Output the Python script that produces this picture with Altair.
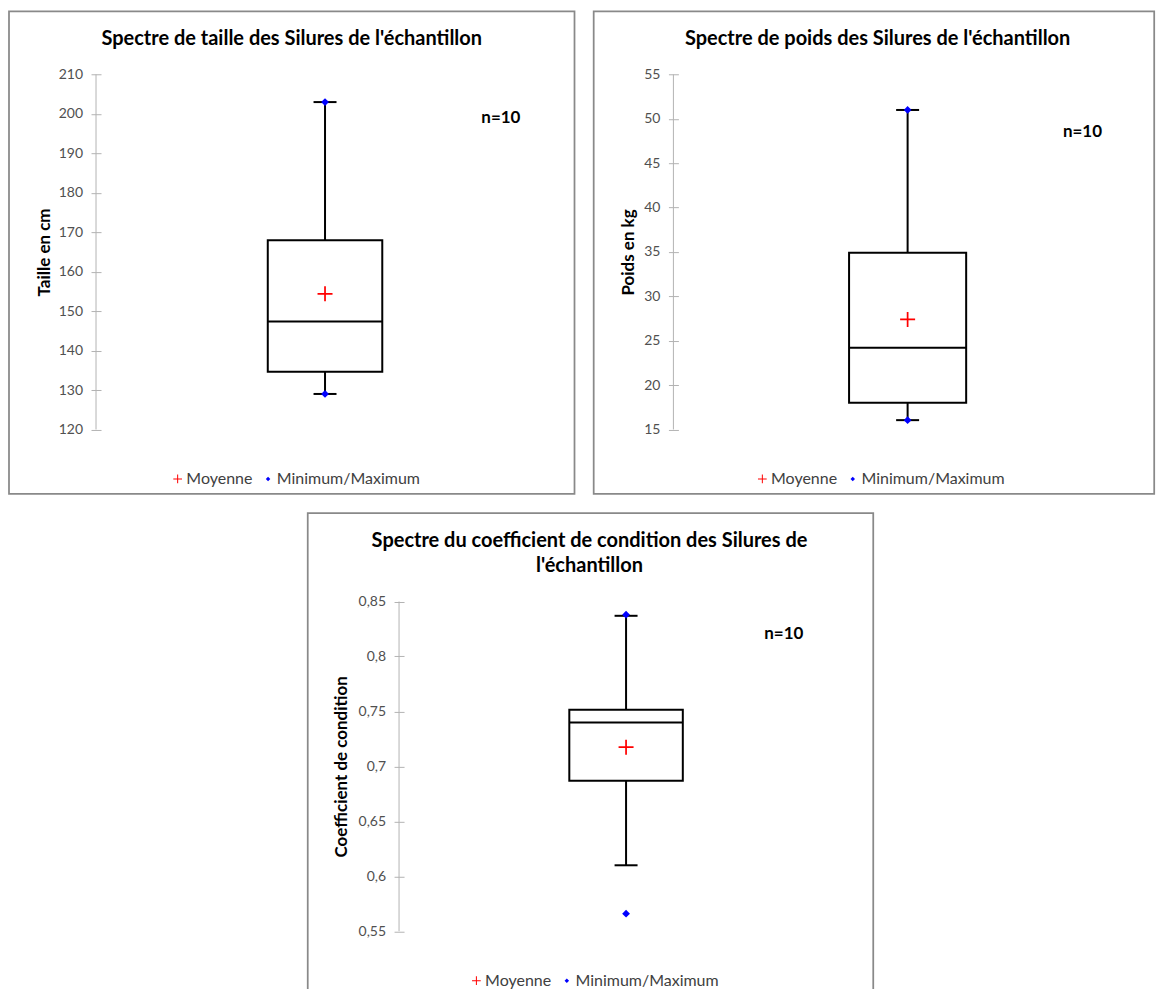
import altair as alt
import pandas as pd

# ---------------- data ----------------
titles = [
    ["Spectre de taille des Silures de l'échantillon"],
    ["Spectre de poids des Silures de l'échantillon"],
    ["Spectre du coefficient de condition des Silures de", "l'échantillon"],
]
y_titles = ["Taille en cm", "Poids en kg", "Coefficient de condition"]
y_domains = [[120, 210], [15, 55], [0.55, 0.85]]
y_ticks = [
    [120, 130, 140, 150, 160, 170, 180, 190, 200, 210],
    [15, 20, 25, 30, 35, 40, 45, 50, 55],
    [0.55, 0.6, 0.65, 0.7, 0.75, 0.8, 0.85],
]
minimum = [129.0, 16.05, 0.566]
whisker_low = [129.0, 16.05, 0.61]
q1 = [134.6, 18.0, 0.687]
median = [147.4, 24.2, 0.740]
mean = [154.4, 27.4, 0.7175]
q3 = [168.0, 34.9, 0.7515]
whisker_high = [203.0, 51.0, 0.837]
maximum = [203.0, 51.0, 0.838]
n_obs = [10, 10, 10]
series = ["Moyenne", "Minimum/Maximum"]
category = "Silures"

# ---------------- layout / style ----------------
FONT = "Lato"
PANEL_W = [566, 561, 566]
PANEL_H = 483
Y_RANGE = [[418.5, 63.2], [418.5, 63.2], [418.5, 88.5]]
AXIS_X = [87.1, 79.8, 91.4]
PLOT_RIGHT = [545.5, 548.6, 545.8]
N_POS = [(492.3, 107.2), (489.2, 120.9), (476.5, 120.9)]
YTITLE_X = [35.3, 35.2, 34.0]
TITLE_X = [283.0, 284.2, 282.0]
TITLE_Y = [28.2, 28.2, 27.5]
LEGEND_X = 160.8
LEGEND_Y = 460
AXIS_GREY = "#b3b3b3"
LABEL_GREY = "#505050"
LEGEND_GREY = "#404040"
BORDER = "#898989"
PLUS = "M-1,-0.115H-0.115V-1H0.115V-0.115H1V0.115H0.115V1H-0.115V0.115H-1Z"
DIAMOND = "M0,-0.52L0.52,0L0,0.52L-0.52,0Z"


def panel(i):
    stats = pd.DataFrame({
        "cat": [category],
        "wlo": [whisker_low[i]], "q1": [q1[i]], "med": [median[i]],
        "q3": [q3[i]], "whi": [whisker_high[i]], "n": [f"n={n_obs[i]}"],
    })
    pts = pd.DataFrame({
        "cat": [category] * 3,
        "series": [series[0], series[1], series[1]],
        "v": [mean[i], minimum[i], maximum[i]],
    })
    ax = AXIS_X[i]
    band = PLOT_RIGHT[i] - ax
    box_w = 0.25 * band
    ysc = alt.Scale(domain=y_domains[i], range=Y_RANGE[i], nice=False, zero=False)
    mid = (Y_RANGE[i][0] + Y_RANGE[i][1]) / 2
    if i == 2:
        lexpr = "replace(format(datum.value, '.2~f'), '.', ',')"
    else:
        lexpr = "format(datum.value, '~g')"
    yaxis = alt.Axis(
        values=y_ticks[i], offset=-(ax + 5), tickSize=10, domain=False, grid=False,
        tickColor=AXIS_GREY, tickWidth=1, labelFont=FONT, labelFontSize=14,
        labelColor=LABEL_GREY, labelPadding=8.5, labelExpr=lexpr,
        title=y_titles[i], titleFont=FONT, titleFontSize=17, titleFontWeight="bold",
        titleColor="black", titleX=YTITLE_X[i] - (ax + 5), titleY=mid,
        titleAngle=270, titleAlign="center", titleBaseline="middle",
    )
    xenc = alt.X("cat:N", scale=alt.Scale(range=[ax, PLOT_RIGHT[i]], paddingInner=0,
                                          paddingOuter=0), axis=None)

    def Y(field):
        return alt.Y(f"{field}:Q", scale=ysc, axis=yaxis)

    base = alt.Chart(stats)
    domain_line = base.mark_rule(color=AXIS_GREY, strokeWidth=1).encode(
        x=alt.value(ax),
        y=alt.Y(datum=y_domains[i][0], type="quantitative", scale=ysc, axis=yaxis),
        y2=alt.Y2(datum=y_domains[i][1]),
    )
    whisker = base.mark_rule(color="black", strokeWidth=2).encode(
        x=xenc, y=Y("wlo"), y2="whi:Q")
    box = base.mark_bar(fill="white", stroke="black", strokeWidth=2, width=box_w).encode(
        x=xenc, y=Y("q1"), y2="q3:Q")
    med = base.mark_tick(color="black", size=box_w, thickness=2, orient="horizontal",
                         opacity=1).encode(x=xenc, y=Y("med"))
    cap_lo = base.mark_tick(color="black", size=23, thickness=2, orient="horizontal",
                            opacity=1).encode(x=xenc, y=Y("wlo"))
    cap_hi = base.mark_tick(color="black", size=23, thickness=2, orient="horizontal",
                            opacity=1).encode(x=xenc, y=Y("whi"))
    leg = alt.Legend(
        orient="none", legendX=LEGEND_X, legendY=LEGEND_Y, direction="horizontal",
        title=None, symbolSize=76, symbolStrokeWidth=0, labelFont=FONT,
        labelFontSize=16, labelColor=LEGEND_GREY, labelOffset=0.7, columnPadding=7.5,
        padding=0,
    )
    points = alt.Chart(pts).mark_point(filled=True, size=225, strokeWidth=0, opacity=1).encode(
        x=xenc, y=alt.Y("v:Q", scale=ysc, axis=yaxis),
        color=alt.Color("series:N", scale=alt.Scale(domain=series, range=["#ff0000", "#0000ff"]),
                        legend=leg),
        shape=alt.Shape("series:N", scale=alt.Scale(domain=series, range=[PLUS, DIAMOND]),
                        legend=leg),
    )
    ntext = base.mark_text(font=FONT, fontSize=17, fontWeight="bold", color="black",
                           align="center", baseline="middle").encode(
        text="n:N", x=alt.value(N_POS[i][0]), y=alt.value(N_POS[i][1]))
    title = base.mark_text(text=titles[i], font=FONT, fontSize=20, fontWeight="bold",
                           color="black", align="center", baseline="middle",
                           lineHeight=25).encode(
        x=alt.value(TITLE_X[i]), y=alt.value(TITLE_Y[i]))
    return alt.layer(domain_line, whisker, box, med, cap_lo, cap_hi, points, ntext, title
                     ).properties(width=PANEL_W[i], height=PANEL_H)


def indep(c):
    return c.resolve_scale(color="independent", shape="independent",
                           x="independent", y="independent").resolve_legend(
        color="independent", shape="independent")


spacer = alt.Chart(pd.DataFrame({"s": [0]})).mark_point(opacity=0, size=1).encode(
    x=alt.value(100), y=alt.value(5)).properties(
    width=298, height=10, view=alt.ViewBackground(stroke="transparent", strokeWidth=0))

top = indep(alt.hconcat(panel(0), panel(1), spacing=17.2))
bottom = indep(alt.hconcat(spacer, panel(2), spacing=0))
chart = indep(alt.vconcat(top, bottom, spacing=17.2)).properties(
    padding={"left": 0, "top": 1.9, "right": 0, "bottom": 0}
).configure(font=FONT).configure_view(stroke=BORDER, strokeWidth=1.75)

chart.save("out.html", embed_options={"renderer": "svg", "actions": False})
